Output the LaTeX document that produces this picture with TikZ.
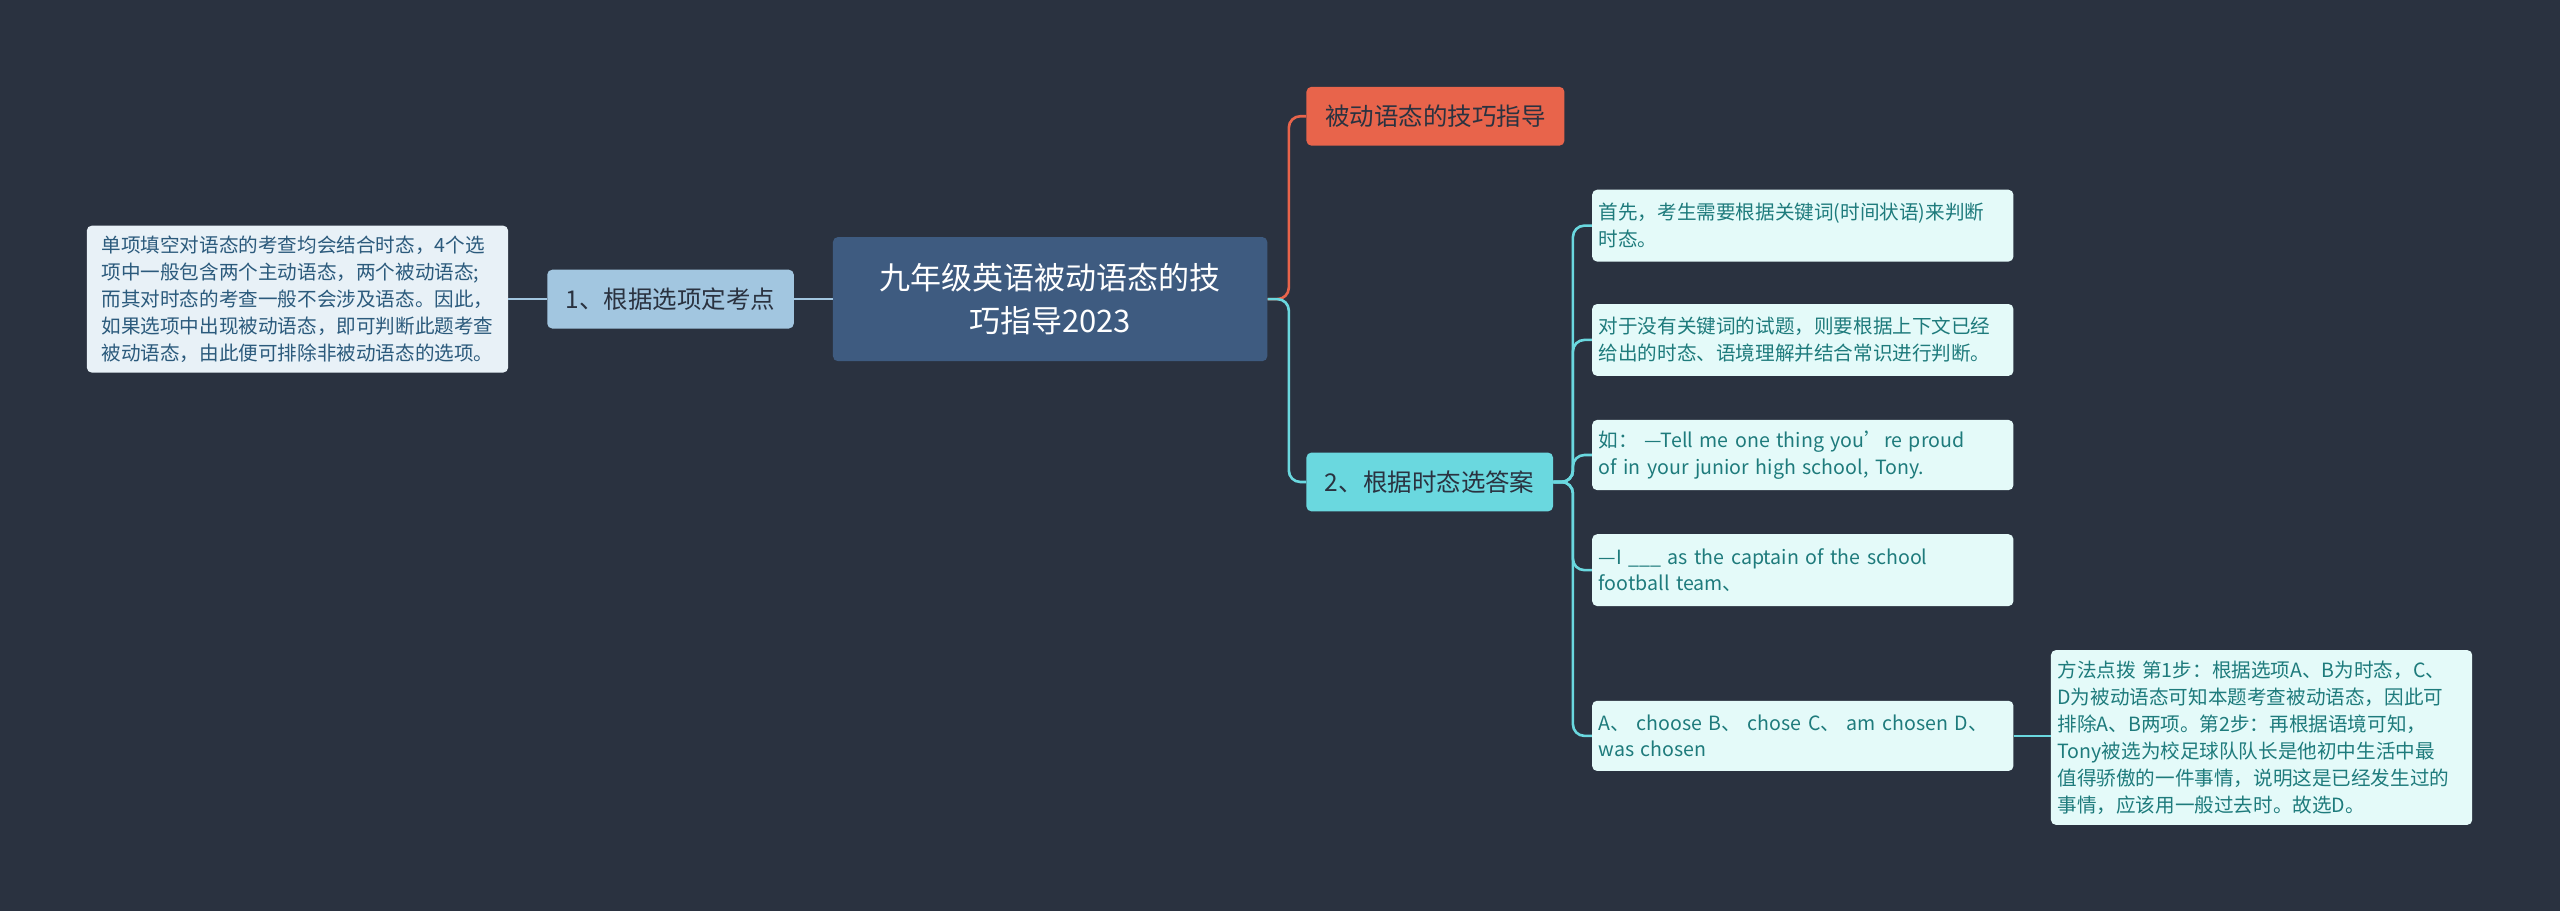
\documentclass[tikz,border=0pt]{standalone}
\usepackage{fontspec}
\setmainfont{Noto Sans CJK SC}
\usetikzlibrary{positioning}
\definecolor{bgc}{HTML}{2A3240}
\definecolor{rootc}{HTML}{3E5B80}
\definecolor{subl}{HTML}{A2C6E0}
\definecolor{leafl}{HTML}{E8F1F7}
\definecolor{textl}{HTML}{2B5A7C}
\definecolor{orc}{HTML}{E8644B}
\definecolor{cyc}{HTML}{6AD8DF}
\definecolor{leafr}{HTML}{E4FAF9}
\definecolor{textr}{HTML}{1E7B7C}
\begin{document}
\begin{tikzpicture}[x=1pt,y=-1pt,
    box/.style={rounded corners=3pt,inner sep=0pt,anchor=north west},
    leaftext/.style={align=left,font=\fontsize{12}{16.5}\selectfont},
    link/.style={line width=1.6pt,rounded corners=7pt}
  ]
  \fill[bgc] (0,0) rectangle (1568,558);
  \useasboundingbox (0,0) rectangle (1568,558);
  % main nodes
  \node[box,fill=rootc,text=white,minimum width=266pt,minimum height=76pt,align=center,
        font=\fontsize{19}{26}\selectfont] (root) at (510,145) {九年级英语被动语态的技\\巧指导2023};
  \node[box,fill=subl,text=bgc,minimum width=151pt,minimum height=36pt,
        font=\fontsize{15}{18}\selectfont] (opt) at (335,165) {1、根据选项定考点};
  \node[box,fill=leafl,text=textl,minimum width=258pt,minimum height=90pt,leaftext] (optleaf) at (53,138)
    {单项填空对语态的考查均会结合时态，4个选\\项中一般包含两个主动语态，两个被动语态;\\而其对时态的考查一般不会涉及语态。因此，\\如果选项中出现被动语态，即可判断此题考查\\被动语态，由此便可排除非被动语态的选项。};
  \node[box,fill=orc,text=bgc,minimum width=158pt,minimum height=36pt,
        font=\fontsize{15}{18}\selectfont] (skill) at (800,53) {被动语态的技巧指导};
  \node[box,fill=cyc,text=bgc,minimum width=151pt,minimum height=36pt,
        font=\fontsize{15}{18}\selectfont] (tense) at (800,277) {2、根据时态选答案};
  % leaves of the tense branch
  \tikzset{rleaf/.style={box,fill=leafr,text=textr,minimum width=258pt,leaftext,text width=250pt,inner xsep=4pt}}
  \node[rleaf,minimum height=44pt] (ta) at (975,116) {首先，考生需要根据关键词(时间状语)来判断\\时态。};
  \node[rleaf,minimum height=44pt] (tb) at (975,186) {对于没有关键词的试题，则要根据上下文已经\\给出的时态、语境理解并结合常识进行判断。};
  \node[rleaf,minimum height=43pt] (tc) at (975,257) {如： —Tell me one thing you’re proud\\of in your junior high school, Tony.};
  \node[rleaf,minimum height=44pt] (td) at (975,327) {—I \_\_\_ as the captain of the school\\football team、};
  \node[rleaf,minimum height=43pt] (te) at (975,429) {A、 choose B、 chose C、 am chosen D、\\ was chosen};
  \node[rleaf,minimum height=107pt] (tf) at (1256,398)
    {方法点拨 第1步：根据选项A、B为时态，C、\\D为被动语态可知本题考查被动语态，因此可\\排除A、B两项。第2步：再根据语境可知，\\Tony被选为校足球队队长是他初中生活中最\\值得骄傲的一件事情，说明这是已经发生过的\\事情，应该用一般过去时。故选D。};
  % connectors
  \draw[link,subl] (root.west) -- (opt.east);
  \draw[link,subl] (opt.west) -- (optleaf.east);
  \draw[link,orc] (root.east) -- ++(13,0) |- (skill.west);
  \draw[link,cyc] (root.east) -- ++(13,0) |- (tense.west);
  \foreach \n in {ta,tb,tc,td,te}
    \draw[link,cyc] (tense.east) -- ++(12,0) |- (\n.west);
  \draw[link,cyc] (te.east) -- (tf.west |- te.east);
\end{tikzpicture}
\end{document}
